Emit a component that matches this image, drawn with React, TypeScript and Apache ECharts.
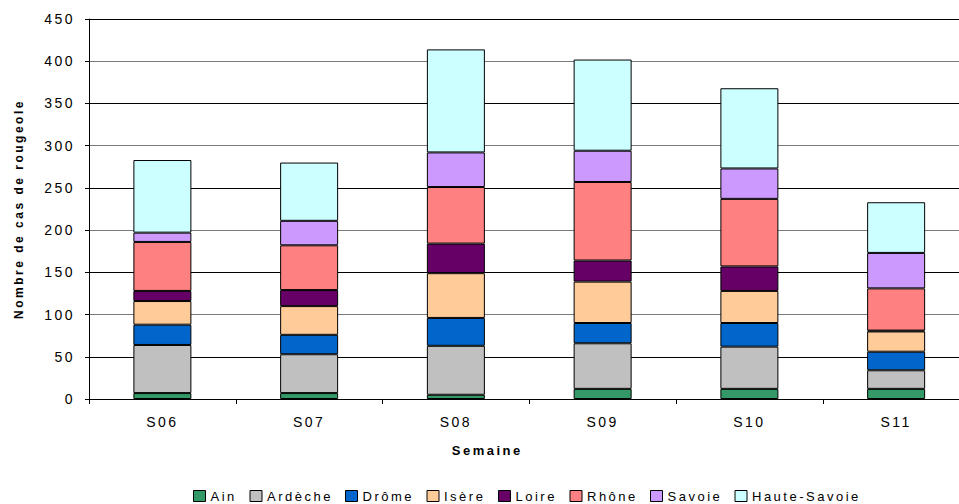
import React, { useEffect, useRef } from "react";
import * as echarts from "echarts";

// Weekly measles cases in Rhône-Alpes, stacked by département
const weeks = ["S06", "S07", "S08", "S09", "S10", "S11"];
const departements = ["Ain", "Ardèche", "Drôme", "Isère", "Loire", "Rhône", "Savoie", "Haute-Savoie"];

const ain = [7, 7, 5, 12, 12, 12];
const ardeche = [57, 46, 58, 54, 50, 22];
const drome = [24, 23, 33, 24, 28, 22];
const isere = [28, 34, 53, 49, 38, 24];
const loire = [12, 19, 35, 25, 29, 1];
const rhone = [58, 53, 67, 93, 80, 50];
const savoie = [11, 29, 41, 37, 36, 42];
const hauteSavoie = [86, 69, 122, 108, 95, 60];

const seriesValues = [ain, ardeche, drome, isere, loire, rhone, savoie, hauteSavoie];
const colors = ["#339966", "#C0C0C0", "#0066CC", "#FFCC99", "#660066", "#FF8080", "#CC99FF", "#CCFFFF"];

const yMin = 0;
const yMax = 450;
const yStep = 50;

const FONT = '"Liberation Sans", Arial, Helvetica, sans-serif';
const LETTER_SPACING = 2.5;
const LEGEND_FONT_SIZE = 13;

function textWidth(text: string, size: number, weight = "normal"): number {
  const ctx = document.createElement("canvas").getContext("2d");
  if (!ctx) return text.length * size * 0.55;
  ctx.font = `${weight} ${size}px ${FONT}`;
  return ctx.measureText(text).width;
}

export default function App() {
  const ref = useRef<HTMLDivElement>(null);

  useEffect(() => {
    if (!ref.current) return;
    const chart = echarts.init(ref.current, undefined, { renderer: "svg" });

    // legend labels are drawn letter-spaced: give each one a box wide enough
    // (a transparent background makes the box count in the legend layout)
    const rich: Record<string, any> = {};
    departements.forEach((d, i) => {
      rich["t" + i] = {
        fontSize: LEGEND_FONT_SIZE,
        fontFamily: FONT,
        color: "#000",
        lineHeight: 14,
        width: Math.ceil(textWidth(d, LEGEND_FONT_SIZE) + LETTER_SPACING * d.length),
        backgroundColor: "rgba(255,255,255,0)",
      };
    });

    chart.setOption({
      animation: false,
      textStyle: { fontFamily: FONT, color: "#000" },
      grid: {
        left: 89,
        right: -10.5,
        top: 19,
        bottom: 105,
        containLabel: false,
        outerBoundsMode: "none",
      },
      legend: {
        data: departements,
        left: 188,
        top: 484,
        padding: 5,
        orient: "horizontal",
        icon: "rect",
        itemWidth: 12,
        itemHeight: 11,
        itemGap: 12,
        itemStyle: { borderColor: "#000", borderWidth: 1 },
        textStyle: { fontSize: LEGEND_FONT_SIZE, fontFamily: FONT, color: "#000", lineHeight: 14, rich },
        formatter: (name: string) => `{t${departements.indexOf(name)}|${name}}`,
        selectedMode: false,
      },
      xAxis: {
        type: "category",
        data: weeks,
        name: "Semaine",
        nameLocation: "middle",
        nameGap: 45,
        nameTextStyle: {
          fontSize: 13,
          fontWeight: "bold",
          fontFamily: FONT,
          color: "#000",
          padding: [0, 84, 0, 0],
        },
        axisLine: { lineStyle: { color: "#000", width: 1 } },
        axisTick: { show: true, length: 5, inside: false, lineStyle: { color: "#000" } },
        axisLabel: { fontSize: 14, fontFamily: FONT, color: "#000", margin: 16 },
        splitLine: { show: false },
      },
      yAxis: {
        type: "value",
        min: yMin,
        max: yMax,
        interval: yStep,
        name: "Nombre de cas de rougeole",
        nameLocation: "middle",
        nameGap: 64,
        nameRotate: 90,
        nameTextStyle: { fontSize: 12, fontWeight: "bold", fontFamily: FONT, color: "#000" },
        axisLine: { show: true, lineStyle: { color: "#000", width: 1 } },
        axisTick: { show: true, length: 4, inside: false, lineStyle: { color: "#000" } },
        axisLabel: { fontSize: 14, fontFamily: FONT, color: "#000", margin: 14 },
        splitLine: { show: true, lineStyle: { color: ["#7a7a7a", "#000"], width: 1 } },
      },
      series: departements.map((name, i) => ({
        name,
        type: "bar",
        stack: "cas",
        data: seriesValues[i],
        barWidth: 58,
        itemStyle: { color: colors[i], borderColor: "#000", borderWidth: 1 },
        emphasis: { disabled: true },
      })),
    });

    return () => chart.dispose();
  }, []);

  return (
    <>
      <style>{`#measles-chart text { letter-spacing: ${LETTER_SPACING}px; }`}</style>
      <div
        id="measles-chart"
        ref={ref}
        style={{ position: "fixed", left: 0, top: 0, width: 959, height: 504, background: "#fff" }}
      />
    </>
  );
}
